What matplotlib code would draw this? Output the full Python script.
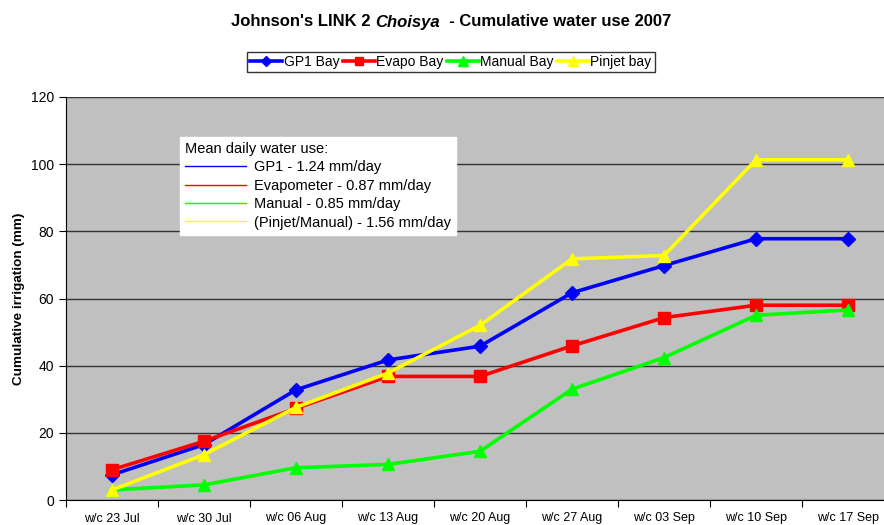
import matplotlib

matplotlib.use("Agg")
import matplotlib.pyplot as plt
import numpy as np
from matplotlib.lines import Line2D
from matplotlib.offsetbox import AnchoredOffsetbox, HPacker, TextArea

plt.rcParams["font.family"] = ["Liberation Sans", "DejaVu Sans"]

weeks = ["w/c 23 Jul", "w/c 30 Jul", "w/c 06 Aug", "w/c 13 Aug", "w/c 20 Aug",
         "w/c 27 Aug", "w/c 03 Sep", "w/c 10 Sep", "w/c 17 Sep"]
gp1 = [7.5, 16.5, 32.8, 41.7, 45.8, 61.7, 69.8, 77.8, 77.8]
evapo = [9.0, 17.5, 27.3, 36.8, 36.8, 45.9, 54.3, 58.0, 58.0]
manual = [3.0, 4.5, 9.6, 10.6, 14.5, 33.0, 42.4, 55.0, 56.6]
pinjet = [3.0, 13.5, 27.6, 37.8, 52.0, 71.8, 72.8, 101.3, 101.3]

series = [
    ("GP1 Bay", gp1, "#0000FF", "D", 7),
    ("Evapo Bay", evapo, "#FF0000", "s", 8),
    ("Manual Bay", manual, "#00FF00", "^", 9),
    ("Pinjet bay", pinjet, "#FFFF00", "^", 9),
]
mean_use = ["GP1 - 1.24 mm/day", "Evapometer - 0.87 mm/day",
            "Manual - 0.85 mm/day", "(Pinjet/Manual) - 1.56 mm/day"]

fig = plt.figure(figsize=(8.84, 5.25), dpi=100)
# plot area runs slightly past the right edge, as in the original
ax = fig.add_axes([66 / 884, 25 / 525, 828 / 884, 403 / 525])
ax.set_facecolor("#C0C0C0")

x = np.arange(len(weeks)) + 0.5
handles = []
for name, vals, col, mk, ms in series:
    (h,) = ax.plot(x, vals, color=col, lw=2.6, marker=mk, ms=ms,
                   markeredgecolor=col, label=name, zorder=3)
    handles.append(h)

ax.set_xlim(0, len(weeks))
ax.set_ylim(0, 120)
ax.set_yticks(np.arange(0, 121, 20))
ax.yaxis.grid(True, color="#333333", lw=1.0)
ax.set_axisbelow(True)
ax.set_xticks(np.arange(len(weeks) + 1))
ax.set_xticklabels([])
ax.set_xticks(x, minor=True)
ax.set_xticklabels(weeks, minor=True, fontsize=9)
ax.tick_params(axis="x", which="minor", length=0, pad=9)
ax.tick_params(axis="x", which="major", direction="out", length=5)
ax.tick_params(axis="y", direction="out", length=5, labelsize=10)
for s in ["top", "right"]:
    ax.spines[s].set_visible(False)
ax.spines["left"].set_color("black")
ax.spines["bottom"].set_color("black")
ax.set_ylabel("Cumulative irrigation (mm)", fontsize=9.7, fontweight="bold", labelpad=4)

# title with the italic genus name in the middle
tprops = dict(fontsize=12, fontweight="bold")
parts = [
    TextArea("Johnson's LINK 2 ", textprops=tprops),
    TextArea("Choisya", textprops=dict(tprops, fontstyle="italic")),
    TextArea("  - Cumulative water use 2007", textprops=tprops),
]
title = AnchoredOffsetbox(loc="center", child=HPacker(children=parts, pad=0, sep=0),
                          bbox_to_anchor=(451 / 884, 1 - 22 / 525),
                          bbox_transform=fig.transFigure, frameon=False, pad=0, borderpad=0)
fig.add_artist(title)

top_leg = fig.legend(handles=handles, loc="center", bbox_to_anchor=(451 / 884, 1 - 62 / 525),
                     ncol=4, fontsize=10, frameon=True, fancybox=False, edgecolor="black",
                     handlelength=2.3, handletextpad=0.1, columnspacing=0.25,
                     borderpad=0.25, markerscale=0.8)
top_leg.get_frame().set_linewidth(1.0)

box_handles = [Line2D([], [], color=col, lw=1) for _, _, col, _, _ in series]
box = ax.legend(box_handles, mean_use, loc="upper left", bbox_to_anchor=(114 / 828, 1 - 40 / 403),
                borderaxespad=0, title="Mean daily water use:", fontsize=10.5, title_fontsize=10.5,
                frameon=True, fancybox=False, framealpha=1, edgecolor="white",
                handlelength=4.2, handletextpad=0.5, borderpad=0.35, labelspacing=0.3,
                alignment="left")
box.get_frame().set_facecolor("white")
box.set_zorder(5)

fig.savefig("out.png", dpi=100)
